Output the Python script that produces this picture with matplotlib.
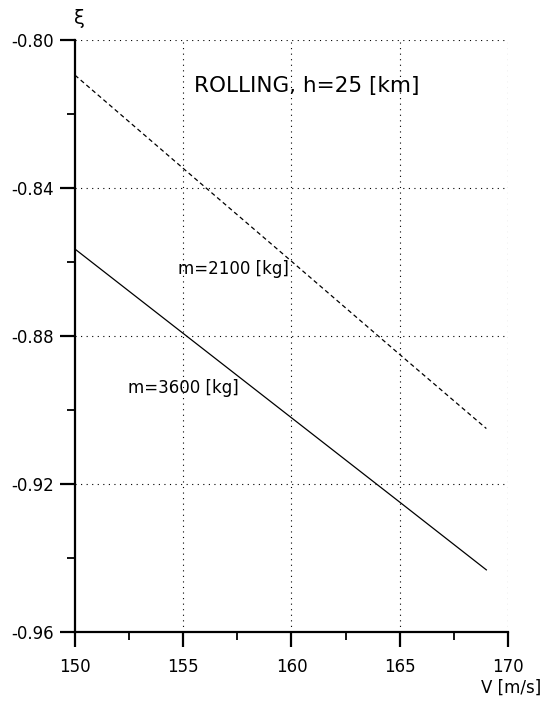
import matplotlib
matplotlib.use("Agg")
import matplotlib.pyplot as plt
from matplotlib.ticker import MultipleLocator, FormatStrFormatter

plt.rcParams['font.family'] = ['DejaVu Sans']

# Rolling derivative vs. flight speed at h = 25 km
speed = [150, 155, 160, 165, 169]
xi_m2100 = [-0.8095, -0.8347, -0.8598, -0.8850, -0.9050]
xi_m3600 = [-0.8565, -0.8793, -0.9021, -0.9249, -0.9432]

label_m2100 = "m=2100 [kg]"
label_m3600 = "m=3600 [kg]"
title_text = "ROLLING, h=25 [km]"

fig = plt.figure(figsize=(5.45, 7.01), dpi=100)
ax = fig.add_axes([0.1376, 0.0984, 0.7945, 0.8445])

ax.set_xlim(150, 170)
ax.set_ylim(-0.96, -0.80)

ax.xaxis.set_major_locator(MultipleLocator(5))
ax.xaxis.set_minor_locator(MultipleLocator(2.5))
ax.yaxis.set_major_locator(MultipleLocator(0.04))
ax.yaxis.set_minor_locator(MultipleLocator(0.02))
ax.yaxis.set_major_formatter(FormatStrFormatter('%.2f'))

for side in ('top', 'right'):
    ax.spines[side].set_visible(False)
for side in ('left', 'bottom'):
    ax.spines[side].set_linewidth(1.6)

ax.tick_params(axis='both', which='major', direction='out', length=11,
               width=1.6, labelsize=12, colors='black')
ax.tick_params(axis='both', which='minor', direction='out', length=5.5,
               width=1.3)
ax.tick_params(axis='x', which='major', pad=8)
ax.tick_params(axis='y', which='major', pad=4)

# dotted grid at major ticks
for x in [155, 160, 165, 170]:
    ax.axvline(x, color='black', lw=0.8, ls=(0, (1, 4)), zorder=1)
for y in [-0.80, -0.84, -0.88, -0.92]:
    ax.axhline(y, color='black', lw=0.8, ls=(0, (1, 4)), zorder=1)

ax.plot(speed, xi_m2100, color='black', lw=0.9, ls=(0, (3.5, 2.5)), zorder=3)
ax.plot(speed, xi_m3600, color='black', lw=0.9, ls='-', zorder=3)

ax.text(154.75, -0.8618, label_m2100, fontsize=12, va='center', ha='left')
ax.text(152.45, -0.8941, label_m3600, fontsize=12, va='center', ha='left')
ax.text(155.5, -0.8123, title_text, fontsize=15.5, va='center', ha='left')

fig.text(79 / 545, 1 - 19 / 701, "ξ", fontsize=14, ha='center', va='center')
fig.text(541 / 545, 1 - 688 / 701, "V [m/s]", fontsize=12, ha='right',
         va='center')

fig.savefig("out.png", dpi=100, facecolor='white')
